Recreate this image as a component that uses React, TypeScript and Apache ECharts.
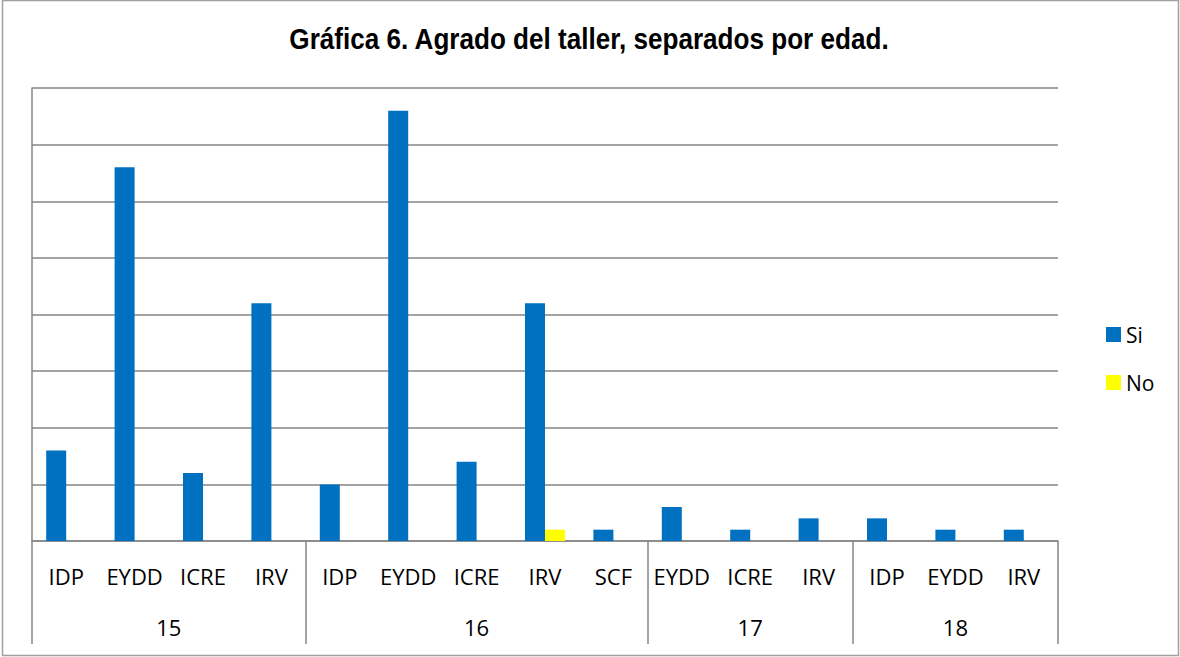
import React, { useEffect, useRef } from "react";
import * as echarts from "echarts";

const categories = ["IDP", "EYDD", "ICRE", "IRV", "IDP", "EYDD", "ICRE", "IRV", "SCF", "EYDD", "ICRE", "IRV", "IDP", "EYDD", "IRV"];
const siValues = [8, 33, 6, 21, 5, 38, 7, 21, 1, 3, 1, 2, 2, 1, 1];
const noValues: (number | null)[] = [null, null, null, null, null, null, null, 1, null, null, null, null, null, null, null];
const groupLabels = ["15", "16", "17", "18"];
const groupSizes = [4, 5, 3, 3];

const GRAY = "#868686";
const FONT = "'Open Sans', 'Noto Sans', sans-serif";

export default function App() {
  const ref = useRef<HTMLDivElement>(null);
  useEffect(() => {
    if (!ref.current) return;
    const chart = echarts.init(ref.current, null, { renderer: "svg" });

    // half-category points for the group axis (boundaryGap false)
    const nHalf = categories.length * 2;
    const halfPoints: string[] = [];
    for (let i = 0; i <= nHalf; i++) halfPoints.push(String(i));
    const boundaryAt = new Set<number>([0]);
    const centerLabels: Record<number, string> = {};
    let start = 0;
    groupSizes.forEach((size, g) => {
      centerLabels[2 * start + size] = groupLabels[g];
      start += size;
      boundaryAt.add(start * 2);
    });

    chart.setOption({
      animation: false,
      legend: {
        orient: "vertical",
        left: 1101,
        top: 319,
        itemWidth: 15,
        itemHeight: 15,
        itemGap: 27,
        icon: "rect",
        textStyle: { fontFamily: FONT, fontSize: 21, color: "#000" },
        data: ["Si", "No"],
      },
      grid: { left: 32, right: 122, top: 88, bottom: 116, containLabel: false },
      xAxis: [
        {
          type: "category",
          data: categories,
          position: "bottom",
          axisLine: { show: true, lineStyle: { color: GRAY, width: 1.5 } },
          axisTick: { show: false },
          axisLabel: { interval: 0, margin: 24, fontFamily: FONT, fontSize: 22, color: "#000" },
          splitLine: { show: false },
        },
        {
          type: "category",
          data: halfPoints,
          boundaryGap: false,
          position: "bottom",
          axisLine: { show: false },
          axisTick: {
            show: true,
            length: 103,
            interval: (index: number) => boundaryAt.has(index),
            lineStyle: { color: GRAY, width: 1.5 },
          },
          axisLabel: {
            interval: 0,
            margin: 75,
            fontFamily: FONT,
            fontSize: 22,
            color: "#000",
            formatter: (_v: string, i: number) => centerLabels[i] || "",
          },
          splitLine: { show: false },
        },
      ],
      yAxis: {
        type: "value",
        min: 0,
        max: 40,
        interval: 5,
        axisLine: { show: true, lineStyle: { color: GRAY, width: 1.5 } },
        axisTick: { show: false },
        axisLabel: { show: false },
        splitLine: { show: true, lineStyle: { color: GRAY, width: 1.5 } },
      },
      series: [
        {
          name: "Si",
          type: "bar",
          xAxisIndex: 0,
          data: siValues,
          barWidth: 20,
          barGap: "0%",
          itemStyle: { color: "#0070C0" },
        },
        {
          name: "No",
          type: "bar",
          xAxisIndex: 0,
          data: noValues,
          barWidth: 20,
          barGap: "0%",
          itemStyle: { color: "#FFFF00" },
        },
      ],
      graphic: [
        {
          type: "rect",
          shape: { x: 2.5, y: 0.5, width: 1176, height: 655 },
          style: { fill: "none", stroke: "#a0a0a0", lineWidth: 1.5 },
          silent: true,
        },
        {
          type: "text",
          x: 589,
          y: 39,
          scaleX: 0.9,
          style: {
            text: "Gráfica 6. Agrado del taller, separados por edad.",
            x: 0,
            y: 0,
            align: "center",
            verticalAlign: "middle",
            fontFamily: "'Liberation Sans Narrow', 'Liberation Sans', Arial, sans-serif",
            fontWeight: "bold",
            fontSize: 29,
            fill: "#000",
          },
          silent: true,
        },
      ],
    });
    return () => chart.dispose();
  }, []);
  return (
    <div
      ref={ref}
      style={{ position: "fixed", left: 0, top: 0, width: 1180, height: 657, background: "#fff" }}
    />
  );
}
